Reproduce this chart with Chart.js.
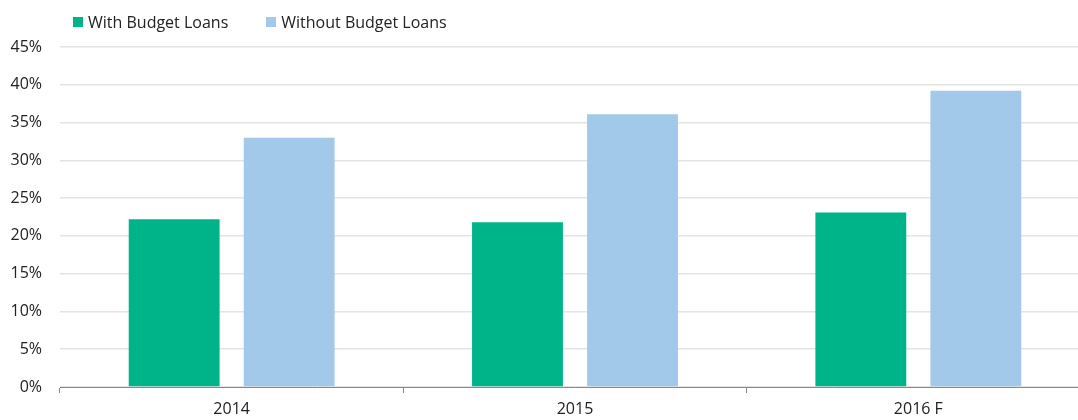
<!DOCTYPE html>
<html>
<head>
<meta charset="utf-8">
<script src="https://cdn.jsdelivr.net/npm/chart.js@4"></script>
<style>
    html, body { margin: 0; padding: 0; background: #fff; overflow: hidden; }
    #wrap { position: relative; width: 1090px; height: 420px; }
    #legend { position: absolute; left: 73px; top: 11px; font: 16px 'Open Sans', sans-serif; color: #222; display: flex; }
    .item { display: flex; align-items: center; margin-right: 38px; }
    .box { width: 10px; height: 10px; margin-right: 5px; }
</style>
</head>
<body>
<div id="wrap">
    <canvas id="chart"></canvas>
    <div id="legend"></div>
</div>
<script>
const years = ['2014', '2015', '2016 F'];
const withLoans = [22.2, 21.8, 23.1];
const withoutLoans = [33.0, 36.1, 39.2];
const seriesNames = ['With Budget Loans', 'Without Budget Loans'];
const colors = ['#00b48a', '#a2c8ea'];

// Legend (html, left aligned like the original)

document.getElementById('legend').innerHTML = seriesNames
    .map((n, i) => `<div class="item"><span class="box" style="background:${colors[i]}"></span>${n}</div>`)
    .join('');

Chart.defaults.font.family = "'Open Sans', sans-serif";
Chart.defaults.font.size = 16;
Chart.defaults.color = '#222';

let ctx = document.getElementById('chart').getContext('2d');
let chart = new Chart(ctx, {
    type: 'bar',
    data: {
        labels: years,
        datasets: [
            { label: seriesNames[0], data: withLoans, backgroundColor: colors[0] },
            { label: seriesNames[1], data: withoutLoans, backgroundColor: colors[1] }
        ]
    },
    options: {
        responsive: true,
        maintainAspectRatio: false,
        animation: false,
        categoryPercentage: 0.67,
        barPercentage: 0.79,
        layout: { padding: { top: 47, right: 0, left: 0, bottom: 0 } },
        plugins: {
            legend: { display: false },
            tooltip: { enabled: false }
        },
        scales: {
            x: {
                afterFit: s => { s.height = 33; },
                grid: { offset: true, drawOnChartArea: false, tickLength: 6, color: '#888' },
                border: { color: '#888', width: 1 },
                ticks: { padding: 7 }
            },
            y: {
                min: 0,
                max: 45,
                afterFit: s => { s.width = 60; },
                border: { display: false },
                grid: { color: '#e4e4e4', lineWidth: 1.5, drawTicks: false },
                ticks: { stepSize: 5, padding: 18, callback: v => v + '%' }
            }
        }
    }
});
</script>
</body>
</html>
